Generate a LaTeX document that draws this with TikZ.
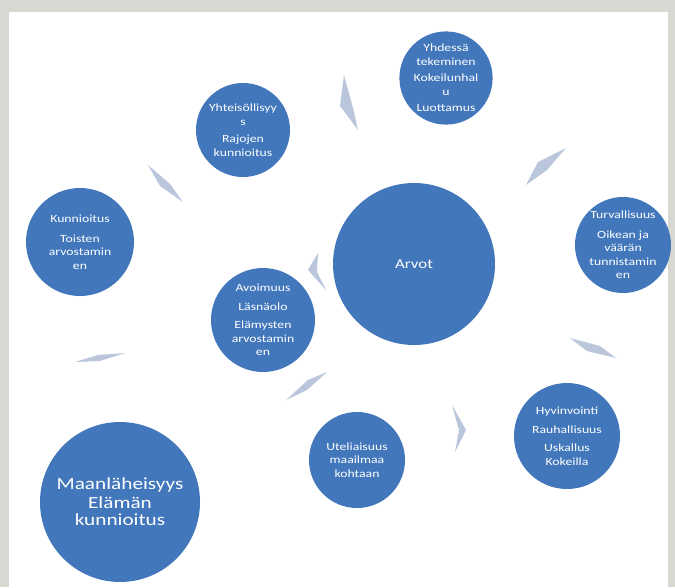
\documentclass[tikz,border=0pt]{standalone}
\usepackage{fontspec}
\setmainfont{Carlito}[FakeStretch=1.25]
\definecolor{circblue}{RGB}{66,119,188}
\definecolor{arrowc}{RGB}{186,198,220}
\definecolor{framec}{RGB}{216,216,210}
\begin{document}
\begin{tikzpicture}[x=1pt,y=-1pt,
  val/.style={circle,fill=circblue,text=white,inner sep=0pt,align=center,font=\fontsize{11}{13.5}\selectfont},
  cyc/.style={fill=arrowc}]
\useasboundingbox (0,0) rectangle (675,587);
\fill[framec] (0,0) rectangle (675,587);
\fill[white] (9,12) rectangle (668,587);
\node[val,minimum size=162pt,font=\fontsize{13.5}{16}\selectfont] (arvot) at (414,264) {Arvot};
\node[val,minimum size=94pt] (yht) at (243,130) {Yhteisöllisyy\\s\\[4pt]Rajojen\\kunnioitus};
\node[val,minimum size=92pt] (yhd) at (446,78) {Yhdessä\\tekeminen\\[3pt]Kokeilunhal\\u\\[3pt]Luottamus};
\node[val,minimum size=96pt] (tur) at (623,245) {Turvallisuus\\[6pt]Oikean ja\\väärän\\tunnistamin\\en};
\node[val,minimum size=108pt] (kun) at (80,242) {Kunnioitus\\[6pt]Toisten\\arvostamin\\en};
\node[val,minimum size=104pt] (avo) at (263,320) {Avoimuus\\[5pt]Läsnäolo\\[5pt]Elämysten\\arvostamin\\en};
\node[val,minimum size=96pt] (ute) at (357,460) {Uteliaisuus\\maailmaa\\kohtaan};
\node[val,minimum size=106pt] (hyv) at (567,436) {Hyvinvointi\\[5pt]Rauhallisuus\\[5pt]Uskallus\\Kokeilla};
\node[val,minimum size=160pt,font=\fontsize{17}{17}\selectfont] (maa) at (120,502) {Maanläheisyys\\[2pt]Elämän\\kunnioitus};
% cycle arrow shapes
\fill[cyc] (344,75) -- (353,108) -- (358,130) -- (340,106) -- cycle;
\fill[cyc] (566,148) -- (547,170) -- (526,185) -- (538,162) -- cycle;
\fill[cyc] (570,338) -- (600,346) -- (616,358) -- (587,351) -- cycle;
\fill[cyc] (452,405) -- (466,430) -- (455,452) -- (459,430) -- cycle;
\fill[cyc] (327,372) -- (307,390) -- (286,400) -- (308,380) -- cycle;
\fill[cyc] (326,290) -- (308,270) -- (318,253) -- (317,272) -- cycle;
\fill[cyc] (125,353) -- (100,361) -- (75,362) -- (98,355) -- cycle;
\fill[cyc] (148,165) -- (170,184) -- (183,202) -- (160,186) -- cycle;
\end{tikzpicture}
\end{document}
